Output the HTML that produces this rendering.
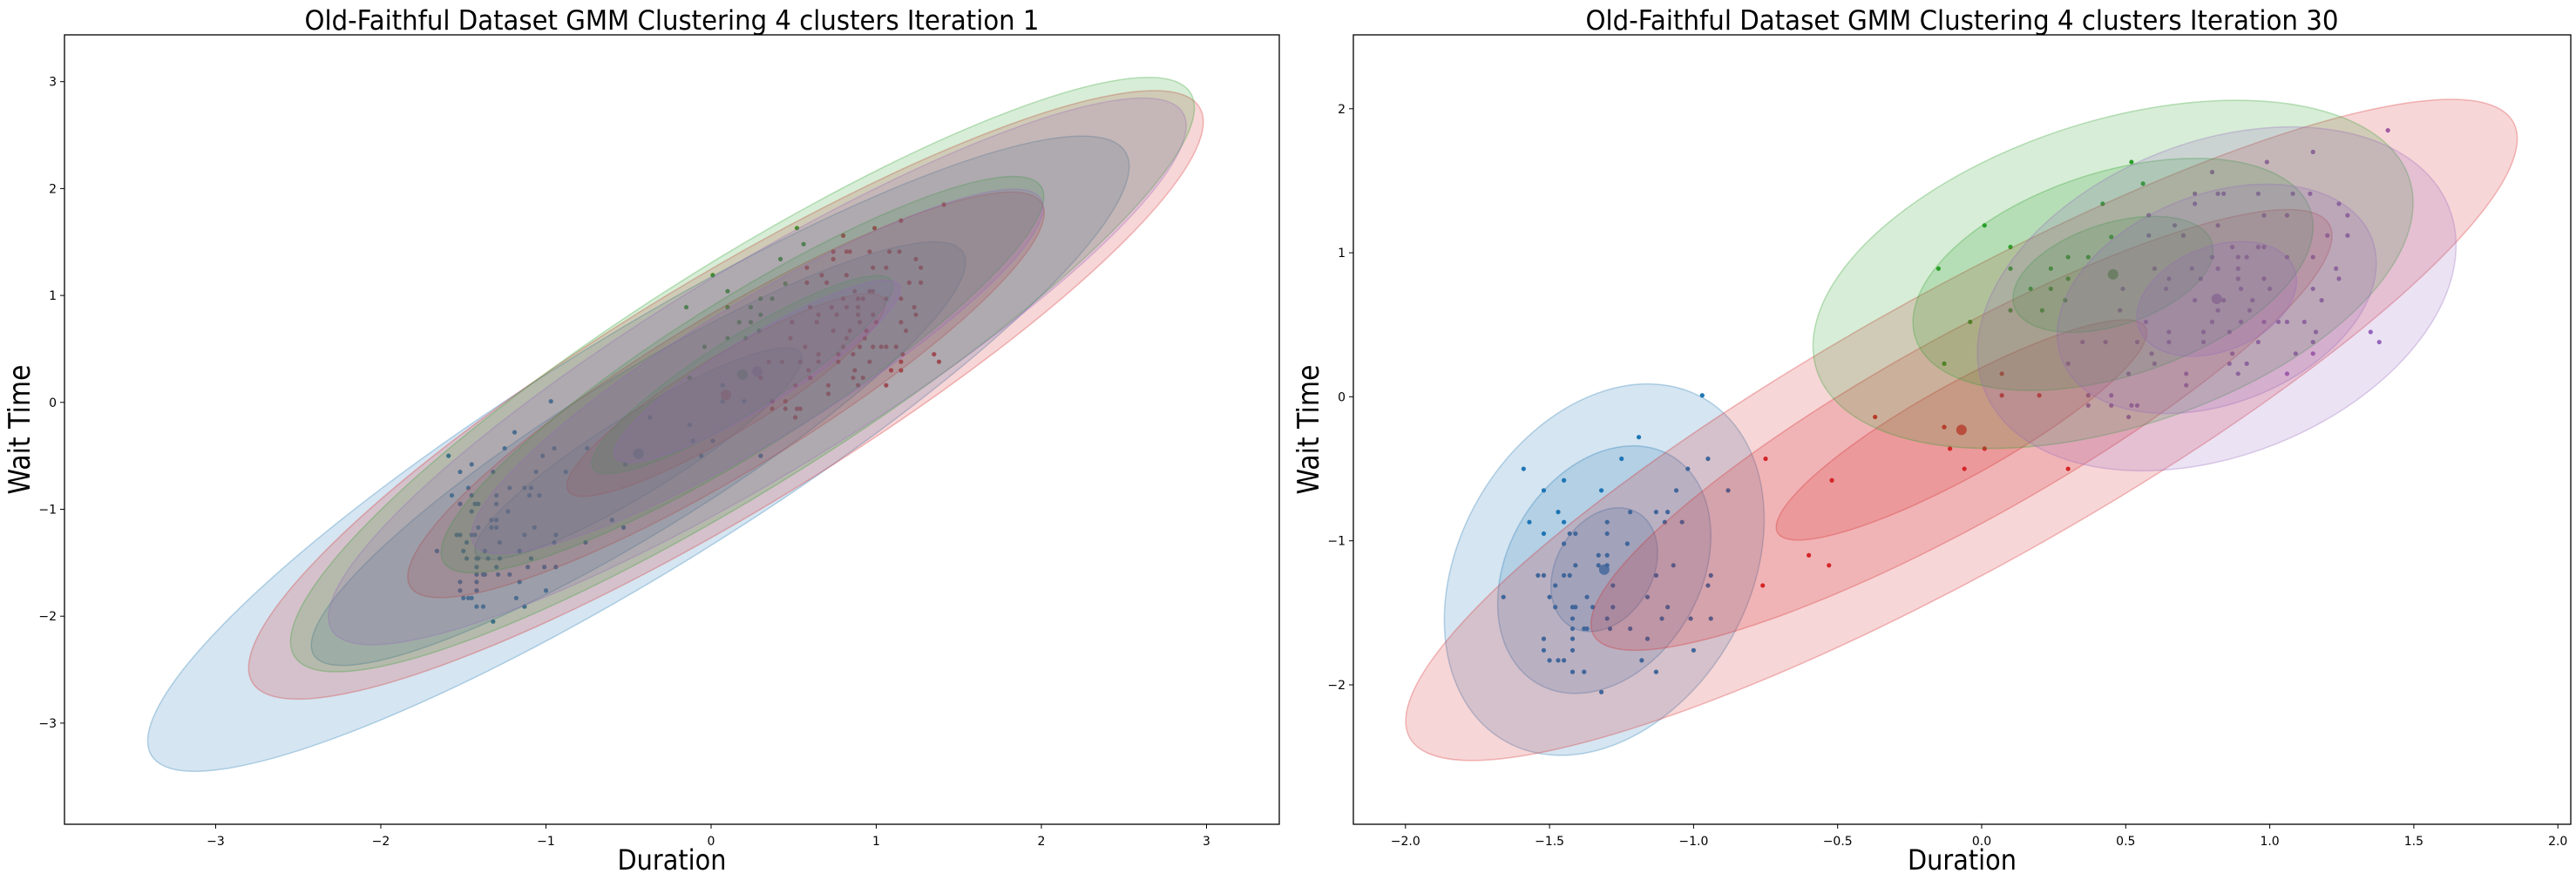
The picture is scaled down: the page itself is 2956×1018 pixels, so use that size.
<!DOCTYPE html>
<html><head><meta charset="utf-8"><style>
html,body{margin:0;padding:0;background:#fff}
svg text{font-family:"DejaVu Sans","Liberation Sans",sans-serif;fill:#000}
</style></head><body>
<svg id="chart" xmlns="http://www.w3.org/2000/svg" width="2956" height="1013" viewBox="0 0 2956 1013"></svg>
<script>
// ---------- data ----------
const componentNames = ['blue','red','green','purple'];
const componentColors = ['#1f77b4','#d62728','#2ca02c','#9467bd'];
// iteration 1 components: [cx, cy] and [a3, b3, angleDeg]
const iter1Means = [[-0.44,-0.48],[0.09,0.07],[0.19,0.26],[0.28,0.29]];
const iter1Shapes = [[4.1,0.92,45],[3.95,0.92,44.5],[3.8,0.88,45.5],[3.55,0.82,44.5]];
// iteration 30 components
const iter30Means = [[-1.31,-1.20],[-0.07,-0.23],[0.456,0.85],[0.816,0.68]];
const iter30Shapes = [[1.3,0.53,82],[2.91,0.72,50.6],[1.35,0.85,55],[1.24,0.76,70]];
const sigmaLevels = [1,2,3];
// data points (standardized duration, wait) and cluster label at iteration 30
const pointsX = [-0.97,-1.19,-1.59,-1.25,-1.45,-0.95,-1.02,-1.52,-1.32,-1.06,-0.88,-1.57,-1.47,-1.45,-1.30,-1.13,-1.09,-1.22,-1.52,-1.43,-1.41,-1.30,-1.10,-1.04,-1.45,-1.23,-1.33,-1.30,-1.54,-1.52,-1.45,-1.43,-1.41,-1.33,-1.30,-1.13,-1.07,-0.94,-1.48,-1.28,-0.95,-1.66,-1.50,-1.37,-1.16,-1.48,-1.42,-1.41,-1.35,-1.28,-1.09,-1.42,-1.30,-1.11,-1.01,-0.94,-1.42,-1.38,-1.37,-1.29,-1.22,-1.16,-1.52,-1.42,-1.52,-1.42,-1.00,-1.50,-1.47,-1.45,-1.18,-1.42,-1.38,-1.13,-1.32,
 -0.75,-0.37,-0.13,-0.11,0.01,-0.06,-0.52,-0.60,-0.53,-0.76,0.07,0.07,0.20,0.30,
 0.52,0.56,0.42,0.01,0.10,-0.15,0.10,0.24,0.17,0.24,0.10,0.21,-0.04,-0.13,0.45,0.30,0.37,0.30,0.29,
 1.41,1.15,0.99,0.80,0.74,0.82,0.84,0.96,1.08,1.14,0.74,1.24,0.58,0.98,1.06,1.27,0.67,0.82,0.58,0.70,1.20,1.27,0.87,0.96,0.98,0.80,0.89,0.92,1.06,1.15,0.73,0.82,0.89,1.23,0.60,0.76,0.65,0.89,0.98,1.24,0.49,0.64,0.90,1.00,1.15,0.74,0.84,0.94,1.18,0.82,0.93,0.48,0.57,0.80,0.90,0.98,1.03,1.06,1.12,0.65,0.77,0.86,1.16,1.35,0.35,0.43,0.54,0.65,0.77,0.96,1.15,1.38,0.59,0.87,1.09,1.15,0.30,0.60,0.86,0.92,0.51,0.71,0.89,1.06,0.71,0.37,0.45,0.37,0.45,0.52,0.54,0.51];
const pointsY = [0.01,-0.28,-0.50,-0.43,-0.58,-0.43,-0.50,-0.65,-0.65,-0.65,-0.65,-0.87,-0.80,-0.87,-0.87,-0.80,-0.80,-0.80,-0.95,-0.95,-0.95,-0.95,-0.87,-0.87,-1.02,-1.02,-1.10,-1.10,-1.24,-1.24,-1.24,-1.24,-1.17,-1.17,-1.17,-1.24,-1.17,-1.24,-1.31,-1.31,-1.31,-1.39,-1.39,-1.39,-1.39,-1.46,-1.46,-1.46,-1.46,-1.46,-1.46,-1.54,-1.54,-1.54,-1.54,-1.54,-1.61,-1.61,-1.61,-1.61,-1.61,-1.68,-1.68,-1.68,-1.76,-1.76,-1.76,-1.83,-1.83,-1.83,-1.83,-1.91,-1.91,-1.91,-2.05,
 -0.43,-0.14,-0.21,-0.36,-0.36,-0.50,-0.58,-1.10,-1.17,-1.31,0.16,0.01,0.01,-0.50,
 1.63,1.48,1.34,1.19,1.04,0.89,0.89,0.89,0.75,0.75,0.60,0.60,0.52,0.23,1.11,0.97,0.97,0.82,0.67,
 1.85,1.70,1.63,1.56,1.41,1.41,1.41,1.41,1.41,1.41,1.34,1.34,1.26,1.26,1.26,1.26,1.19,1.19,1.12,1.12,1.12,1.12,1.04,1.04,1.04,0.97,0.97,0.97,0.97,0.97,0.89,0.89,0.89,0.89,0.89,0.82,0.82,0.82,0.82,0.82,0.75,0.75,0.75,0.75,0.75,0.67,0.67,0.67,0.67,0.60,0.60,0.60,0.52,0.52,0.52,0.52,0.52,0.52,0.52,0.45,0.45,0.45,0.45,0.45,0.38,0.38,0.38,0.38,0.38,0.38,0.38,0.38,0.30,0.30,0.30,0.30,0.23,0.23,0.23,0.23,0.16,0.16,0.16,0.16,0.08,0.01,0.01,-0.06,-0.06,-0.06,-0.06,-0.14];
const clusterCounts = [75,14,19,92]; // blue, red, green, purple (in order of the point arrays)
const iter1LabelMap = [0,0,2,1]; // colour index used in iteration 1 for each final cluster
const xTicks1 = [-3,-2,-1,0,1,2,3];
const yTicks1 = [-3,-2,-1,0,1,2,3];
const xTicks30 = [-2.0,-1.5,-1.0,-0.5,0.0,0.5,1.0,1.5,2.0];
const yTicks30 = [-2,-1,0,1,2];

// ---------- drawing ----------
const NS='http://www.w3.org/2000/svg';
const svg=document.getElementById('chart');
function mk(tag,attrs,parent){const e=document.createElementNS(NS,tag);for(const k in attrs)e.setAttribute(k,attrs[k]);(parent||svg).appendChild(e);return e;}
const labels=[];clusterCounts.forEach((c,i)=>{for(let j=0;j<c;j++)labels.push(i);});

function panel(p){
  const g=mk('g',{});
  
  
  const xs=v=>p.ox+v*p.sx, ys=v=>p.oy-v*p.sy;
  const cid='clip-'+p.name;
  const cp=mk('clipPath',{id:cid},g);
  mk('rect',{x:p.L,y:p.T,width:p.R-p.L,height:p.B-p.T},cp);
  const plot=mk('g',{'clip-path':'url(#'+cid+')'},g);
  pointsX.forEach((x,i)=>{
    const ci=p.labelMap[labels[i]];
    const c=mk('circle',{cx:xs(x),cy:ys(pointsY[i]),r:2.6,fill:componentColors[ci]},plot);
    
    
  });
  p.means.forEach((m,i)=>{
    const c=mk('circle',{cx:xs(m[0]),cy:ys(m[1]),r:6,fill:componentColors[i],'fill-opacity':0.8},plot);
    
    
  });
  const eg=mk('g',{transform:`translate(${p.ox},${p.oy}) scale(${p.sx},${-p.sy})`},plot);
  p.means.forEach((m,i)=>{
    const s=p.shapes[i];
    sigmaLevels.forEach(n=>{
      const e=mk('ellipse',{cx:0,cy:0,rx:s[0]*n/3,ry:s[1]*n/3,
        transform:`translate(${m[0]},${m[1]}) rotate(${s[2]})`,
        fill:componentColors[i],'fill-opacity':0.19,stroke:componentColors[i],'stroke-opacity':0.3,
        'stroke-width':1.5,'vector-effect':'non-scaling-stroke'},eg);
      
      
    });
  });
  const fr=mk('rect',{x:p.L,y:p.T,width:p.R-p.L,height:p.B-p.T,fill:'none',stroke:'#000','stroke-width':1.3},g);
  
  
  p.xt.forEach(t=>{
    const X=xs(t);
    mk('line',{x1:X,x2:X,y1:p.B,y2:p.B+5,stroke:'#000','stroke-width':1},g);
    const tx=mk('text',{x:X,y:p.B+24,'font-size':14,'text-anchor':'middle'},g);
    tx.textContent=p.fmt(t);
    
    
  });
  p.yt.forEach(t=>{
    const Y=ys(t);
    mk('line',{x1:p.L-5,x2:p.L,y1:Y,y2:Y,stroke:'#000','stroke-width':1},g);
    const tx=mk('text',{x:p.L-9,y:Y+5,'font-size':14,'text-anchor':'end'},g);
    tx.textContent=p.fmtY(t);
    
    
  });
  const cx=(p.L+p.R)/2;
  const ti=mk('text',{x:cx,y:34,'font-size':31,'text-anchor':'middle',textLength:p.tw,lengthAdjust:'spacingAndGlyphs'},g);
  ti.textContent=p.title;
  
  
  const xl=mk('text',{x:cx,y:998,'font-size':32,'text-anchor':'middle',textLength:125,lengthAdjust:'spacingAndGlyphs'},g);
  xl.textContent='Duration';
  
  
  const yy=(p.T+p.B)/2;
  const yl=mk('text',{x:0,y:0,'font-size':34,'text-anchor':'middle',textLength:149,lengthAdjust:'spacingAndGlyphs',
    transform:`translate(${p.L-40},${yy}) rotate(-90)`},g);
  yl.textContent='Wait Time';
  
  
}
const minus=s=>s.replace('-','\u2212');
panel({name:'iteration-1-panel',L:74,R:1468,T:40,B:946,ox:816,sx:189.5,oy:461.8,sy:122.7,
  means:iter1Means,shapes:iter1Shapes,labelMap:iter1LabelMap,xt:xTicks1,yt:yTicks1,
  fmt:t=>minus(String(t)),fmtY:t=>minus(String(t)),
  title:'Old-Faithful Dataset GMM Clustering 4 clusters Iteration 1',tw:843});
panel({name:'iteration-30-panel',L:1553,R:2950,T:40,B:946,ox:2274,sx:330.6,oy:455.4,sy:165.3,
  means:iter30Means,shapes:iter30Shapes,labelMap:[0,1,2,3],xt:xTicks30,yt:yTicks30,
  fmt:t=>minus(t.toFixed(1)),fmtY:t=>minus(String(t)),
  title:'Old-Faithful Dataset GMM Clustering 4 clusters Iteration 30',tw:864});
</script>
</body></html>
